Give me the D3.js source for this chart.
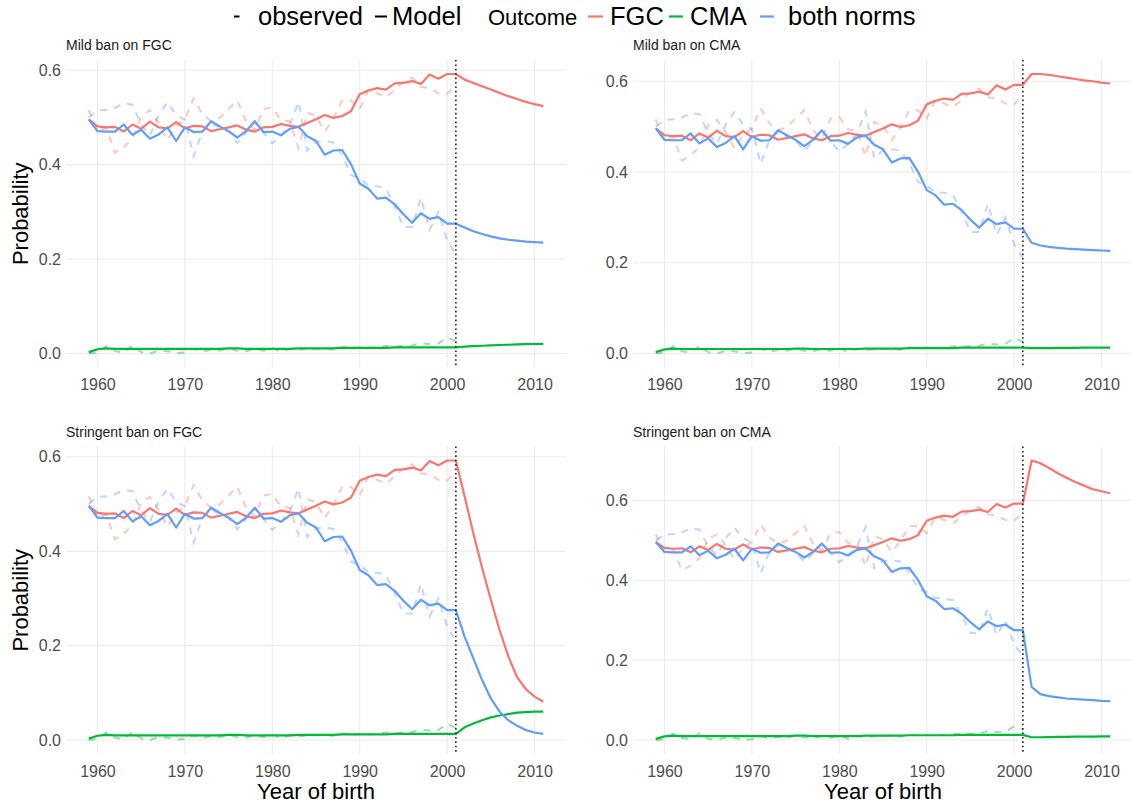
<!DOCTYPE html>
<html><head><meta charset="utf-8">
<script src="https://cdn.jsdelivr.net/npm/d3@7"></script>
<style>body{margin:0;background:#fff}svg{display:block;font-family:"Liberation Sans",Arial,Helvetica,sans-serif}</style>
</head><body><svg id="chart" width="1131" height="803"></svg>
<script>
// ---------------- data ----------------
const histYears = [1959,1960,1961,1962,1963,1964,1965,1966,1967,1968,1969,1970,1971,1972,1973,1974,1975,1976,1977,1978,1979,1980,1981,1982,1983,1984,1985,1986,1987,1988,1989,1990,1991,1992,1993,1994,1995,1996,1997,1998,1999,2000,2001];
const projYears = [2001,2002,2003,2004,2005,2006,2007,2008,2009,2010,2011];
const outcomes = ["FGC","CMA","both norms"];
const outcomeColors = ["#F8766D","#00BA38","#619CFF"];
const xTicks = [1960,1970,1980,1990,2000,2010];
const yTicks = [0,0.2,0.4,0.6];
const interventionYear = 2001;
const panelTitles = ["Mild ban on FGC","Mild ban on CMA","Stringent ban on FGC","Stringent ban on CMA"];

// observed (dashed)
const obsFGC = [0.516,0.470,0.478,0.425,0.437,0.455,0.503,0.515,0.488,0.452,0.481,0.496,0.540,0.507,0.492,0.499,0.518,0.536,0.492,0.474,0.518,0.521,0.494,0.492,0.435,0.510,0.503,0.470,0.499,0.536,0.536,0.518,0.558,0.551,0.543,0.558,0.576,0.584,0.565,0.562,0.551,0.549,0.570];
const obsCMA = [0.000,0.002,0.016,0.005,0.002,0.017,0.003,0.000,0.006,0.005,0.001,0.002,0.010,0.004,0.008,0.006,0.011,0.006,0.005,0.010,0.006,0.012,0.003,0.010,0.008,0.009,0.010,0.012,0.008,0.014,0.012,0.013,0.012,0.013,0.016,0.015,0.016,0.017,0.022,0.020,0.021,0.034,0.026];
const obsBoth = [0.500,0.515,0.516,0.520,0.530,0.527,0.485,0.462,0.505,0.532,0.505,0.495,0.418,0.470,0.488,0.478,0.470,0.446,0.468,0.490,0.468,0.445,0.462,0.484,0.533,0.430,0.448,0.450,0.447,0.420,0.378,0.370,0.356,0.354,0.350,0.312,0.268,0.268,0.330,0.262,0.300,0.240,0.210];

// model fit (solid), 1959-2001
const modelFGC = [0.496,0.481,0.479,0.480,0.470,0.485,0.476,0.491,0.479,0.477,0.490,0.477,0.482,0.481,0.471,0.475,0.479,0.483,0.474,0.470,0.479,0.480,0.486,0.482,0.480,0.488,0.496,0.505,0.499,0.503,0.513,0.549,0.557,0.562,0.559,0.572,0.573,0.577,0.571,0.591,0.582,0.592,0.592];
const modelCMA = [0.003,0.009,0.011,0.010,0.010,0.010,0.010,0.010,0.010,0.010,0.010,0.010,0.010,0.010,0.010,0.010,0.011,0.011,0.010,0.010,0.010,0.010,0.010,0.010,0.011,0.011,0.011,0.011,0.011,0.012,0.012,0.012,0.012,0.012,0.012,0.013,0.013,0.013,0.013,0.013,0.013,0.013,0.013];
const modelBoth = [0.496,0.471,0.470,0.470,0.485,0.463,0.474,0.455,0.464,0.479,0.450,0.479,0.469,0.470,0.492,0.481,0.471,0.457,0.471,0.492,0.469,0.470,0.462,0.476,0.480,0.460,0.450,0.421,0.430,0.431,0.401,0.360,0.349,0.328,0.330,0.316,0.295,0.277,0.297,0.285,0.289,0.275,0.275];

// projections 2001-2011
const mildFgcFGC  = [0.592,0.580,0.573,0.566,0.559,0.552,0.545,0.539,0.533,0.528,0.524];
const mildFgcCMA  = [0.013,0.0145,0.0155,0.0165,0.0172,0.018,0.0186,0.0192,0.0197,0.0202,0.0206];
const mildFgcBoth = [0.275,0.267,0.259,0.253,0.248,0.244,0.241,0.239,0.237,0.236,0.235];

const mildCmaFGC  = [0.592,0.616,0.616,0.614,0.611,0.608,0.605,0.602,0.600,0.597,0.595];
const mildCmaCMA  = [0.013,0.012,0.012,0.012,0.0125,0.0125,0.0125,0.013,0.013,0.013,0.013];
const mildCmaBoth = [0.275,0.244,0.238,0.235,0.233,0.231,0.230,0.229,0.228,0.227,0.226];

const strFgcFGC  = [0.592,0.516,0.438,0.365,0.297,0.233,0.177,0.133,0.108,0.092,0.081];
const strFgcCMA  = [0.013,0.027,0.035,0.042,0.048,0.052,0.055,0.058,0.059,0.060,0.060];
const strFgcBoth = [0.275,0.219,0.173,0.127,0.088,0.060,0.042,0.030,0.021,0.016,0.013];

const strCmaFGC  = [0.592,0.700,0.693,0.681,0.668,0.657,0.646,0.637,0.628,0.623,0.618];
const strCmaCMA  = [0.013,0.007,0.007,0.0075,0.0078,0.008,0.0083,0.0085,0.0087,0.0089,0.009];
const strCmaBoth = [0.275,0.133,0.115,0.110,0.107,0.104,0.1025,0.101,0.100,0.098,0.0975];

const observedSeries = [obsFGC, obsCMA, obsBoth];
const modelSeries = [modelFGC, modelCMA, modelBoth];
const projections = [
  [mildFgcFGC, mildFgcCMA, mildFgcBoth],
  [mildCmaFGC, mildCmaCMA, mildCmaBoth],
  [strFgcFGC, strFgcCMA, strFgcBoth],
  [strCmaFGC, strCmaCMA, strCmaBoth]
];

// ---------------- layout ----------------
const svg = d3.select("#chart");
const colX = [66, 633], rowY = [60, 446.5];
const PW = 500, PH = 307.5;
const grid = "#EBEBEB";

panelTitles.forEach((title, i) => {
  const col = i % 2, row = Math.floor(i / 2);
  const x0 = colX[col], y0 = rowY[row];
  const proj = projections[i];
  const xs = d3.scaleLinear().domain([1959 - 2.6, 2011 + 2.6]).range([x0, x0 + PW]);
  const allVals = [].concat(...observedSeries, ...modelSeries, ...proj);
  const [mn, mx] = d3.extent(allVals);
  const pad = (mx - mn) * 0.05;
  const ys = d3.scaleLinear().domain([mn - pad, mx + pad]).range([y0 + PH, y0]);

  const g = svg.append("g");
  g.selectAll(".vg").data(xTicks).join("line")
    .attr("x1", d => xs(d)).attr("x2", d => xs(d))
    .attr("y1", y0).attr("y2", y0 + PH)
    .attr("stroke", grid).attr("stroke-width", 1.1);
  g.selectAll(".hg").data(yTicks).join("line")
    .attr("x1", x0).attr("x2", x0 + PW)
    .attr("y1", d => ys(d)).attr("y2", d => ys(d))
    .attr("stroke", grid).attr("stroke-width", 1.1);

  const ax = g.append("g").attr("transform", `translate(0,${y0 + PH})`)
    .call(d3.axisBottom(xs).tickValues(xTicks).tickSize(0).tickPadding(11.5).tickFormat(d3.format("d")));
  const ay = g.append("g").attr("transform", `translate(${x0},0)`)
    .call(d3.axisLeft(ys).tickValues(yTicks).tickSize(0).tickPadding(5).tickFormat(d3.format(".1f")));
  [ax, ay].forEach(a => {
    a.select(".domain").remove();
    a.selectAll("text").attr("font-size", 16).attr("fill", "#4D4D4D")
      .attr("font-family", '"Liberation Sans",Arial,sans-serif');
  });

  const line = d3.line().x(d => xs(d[0])).y(d => ys(d[1]));

  outcomes.forEach((o, k) => {
    g.append("path")
      .attr("d", line(histYears.map((yr, j) => [yr, observedSeries[k][j]])))
      .attr("fill", "none").attr("stroke", outcomeColors[k])
      .attr("stroke-opacity", 0.42).attr("stroke-width", 2)
      .attr("stroke-dasharray", "7,7");
  });
  outcomes.forEach((o, k) => {
    const pts = histYears.map((yr, j) => [yr, modelSeries[k][j]])
      .concat(projYears.slice(1).map((yr, j) => [yr, proj[k][j + 1]]));
    g.append("path")
      .attr("d", line(pts))
      .attr("fill", "none").attr("stroke", outcomeColors[k])
      .attr("stroke-width", 2.2).attr("stroke-linejoin", "round");
  });
  g.append("line")
    .attr("x1", xs(interventionYear)).attr("x2", xs(interventionYear))
    .attr("y1", y0).attr("y2", y0 + PH)
    .attr("stroke", "#222").attr("stroke-width", 1.6)
    .attr("stroke-dasharray", "1.6,2.8");

  g.append("text").attr("x", x0).attr("y", y0 - 10)
    .attr("font-size", 14).attr("fill", "#1A1A1A").text(title);

  if (col === 0) {
    g.append("text")
      .attr("transform", `translate(28,${y0 + PH / 2}) rotate(-90)`)
      .attr("text-anchor", "middle").attr("font-size", 22).attr("fill", "#000")
      .text("Probability");
  }
  if (row === 1) {
    g.append("text").attr("x", x0 + PW / 2).attr("y", 799)
      .attr("text-anchor", "middle").attr("font-size", 22).attr("fill", "#000")
      .text("Year of birth");
  }
});

// ---------------- legend ----------------
const lg = svg.append("g");
const ly = 16.5, lb = 25;
lg.append("line").attr("x1", 234).attr("x2", 239.5).attr("y1", ly).attr("y2", ly)
  .attr("stroke", "#000").attr("stroke-width", 2);
lg.append("text").attr("x", 258).attr("y", lb).attr("font-size", 25.5).text("observed");
lg.append("line").attr("x1", 375).attr("x2", 387).attr("y1", ly).attr("y2", ly)
  .attr("stroke", "#000").attr("stroke-width", 2);
lg.append("text").attr("x", 392).attr("y", lb).attr("font-size", 25.5).text("Model");
lg.append("text").attr("x", 488).attr("y", lb).attr("font-size", 22).text("Outcome");
const keyX = [[588, 603, 610], [669, 683, 690], [760, 774, 788]];
outcomes.forEach((o, k) => {
  lg.append("line").attr("x1", keyX[k][0]).attr("x2", keyX[k][1]).attr("y1", ly).attr("y2", ly)
    .attr("stroke", outcomeColors[k]).attr("stroke-width", 2.2);
  lg.append("text").attr("x", keyX[k][2]).attr("y", lb).attr("font-size", 25.5).text(o);
});
</script>
</body></html>
